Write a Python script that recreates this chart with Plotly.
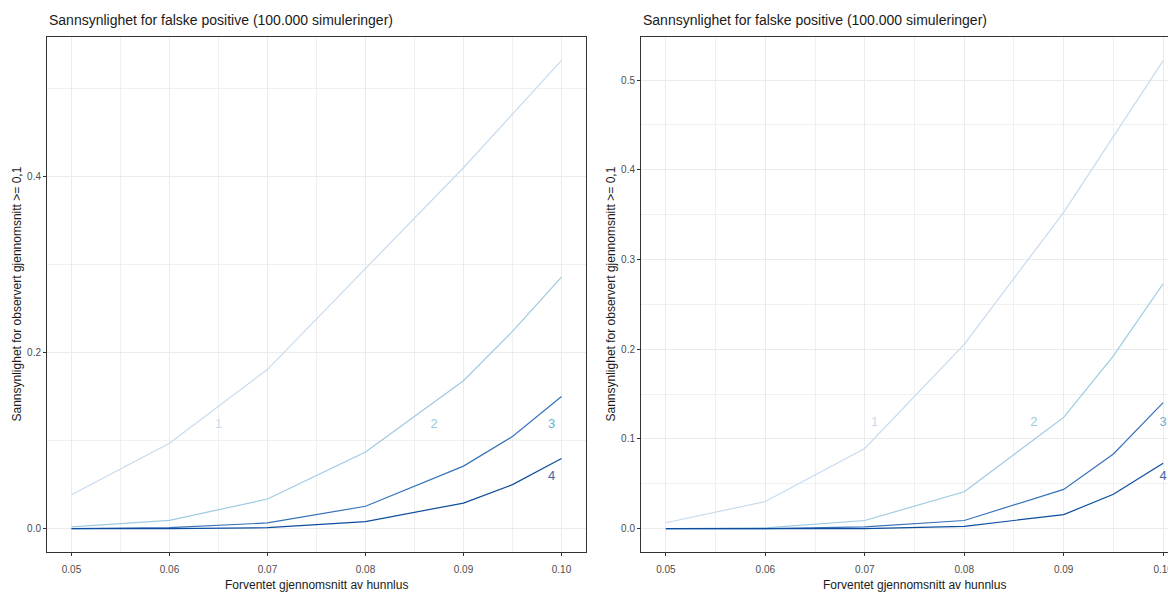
import plotly.graph_objects as go

# ---------------- data ----------------
x_vals = [0.05, 0.06, 0.07, 0.08, 0.09, 0.095, 0.10]

left_s1 = [0.0385, 0.097, 0.181, 0.296, 0.410, 0.471, 0.532]
left_s2 = [0.002, 0.0093, 0.0336, 0.087, 0.168, 0.224, 0.2857]
left_s3 = [0.0, 0.001, 0.0064, 0.0254, 0.071, 0.1047, 0.150]
left_s4 = [0.0, 0.0, 0.001, 0.008, 0.029, 0.050, 0.0796]

right_s1 = [0.0066, 0.0303, 0.0894, 0.2055, 0.3526, 0.437, 0.5216]
right_s2 = [0.0, 0.001, 0.0091, 0.0412, 0.124, 0.1927, 0.273]
right_s3 = [0.0, 0.0, 0.002, 0.0091, 0.0438, 0.0832, 0.1405]
right_s4 = [0.0, 0.0, 0.0, 0.0026, 0.0157, 0.0383, 0.073]

label_text = ["1", "2", "3", "4"]
left_label_x = [0.065, 0.087, 0.099, 0.099]
left_label_y = [0.1185, 0.1185, 0.1185, 0.0587]
right_label_x = [0.071, 0.087, 0.1, 0.1]
right_label_y = [0.1186, 0.1186, 0.1186, 0.0584]

x_ticks = [0.05, 0.06, 0.07, 0.08, 0.09, 0.10]
x_ticktext = ["0.05", "0.06", "0.07", "0.08", "0.09", "0.10"]
left_y_ticks = [0.0, 0.2, 0.4]
left_y_ticktext = ["0.0", "0.2", "0.4"]
right_y_ticks = [0.0, 0.1, 0.2, 0.3, 0.4, 0.5]
right_y_ticktext = ["0.0", "0.1", "0.2", "0.3", "0.4", "0.5"]

title_text = "Sannsynlighet for falske positive (100.000 simuleringer)"
x_title = "Forventet gjennomsnitt av hunnlus"
y_title = "Sannsynlighet for observert gjennomsnitt >= 0,1"

# ---------------- styling ----------------
W, H = 1192, 600
line_colors = ["#c6dbef", "#9ecae1", "#3672bb", "#0c4d9e"]
label_colors = ["#c6dbef", "#9ecae1", "#6baed6", "#4169a8"]
FONT = "Liberation Sans, Arial, sans-serif"

fig = go.Figure()

panels = [
    ("x", "y", [left_s1, left_s2, left_s3, left_s4], left_label_x, left_label_y),
    ("x2", "y2", [right_s1, right_s2, right_s3, right_s4], right_label_x, right_label_y),
]
for xa, ya, series, lx, ly in panels:
    for s, c in zip(series, line_colors):
        fig.add_trace(go.Scatter(x=x_vals, y=s, mode="lines", xaxis=xa, yaxis=ya,
                                 line=dict(color=c, width=1.2), showlegend=False,
                                 hoverinfo="skip"))
    for t, xx, yy, c in zip(label_text, lx, ly, label_colors):
        fig.add_trace(go.Scatter(x=[xx], y=[yy], mode="text", text=[t], xaxis=xa, yaxis=ya,
                                 textfont=dict(color=c, size=13, family=FONT),
                                 showlegend=False, hoverinfo="skip"))

def px_x(p):
    return p / W

def px_y(p):
    return 1 - p / H

common_axis = dict(
    showline=True, linecolor="#333333", linewidth=1, mirror=True,
    ticks="outside", ticklen=3, tickcolor="#333333", tickwidth=1,
    showgrid=True, gridcolor="#ebebeb", gridwidth=1, zeroline=False,
    tickfont=dict(size=10, color="#4d4d4d", family=FONT),
)

xrange = [0.0475, 0.1025]
fig.update_layout(
    width=W, height=H,
    margin=dict(l=0, r=0, t=0, b=0),
    paper_bgcolor="white", plot_bgcolor="white",
    font=dict(family=FONT),
    xaxis=dict(domain=[px_x(47), px_x(586)], range=xrange, anchor="y",
               tickvals=x_ticks, ticktext=x_ticktext, ticklabelstandoff=5,
               minor=dict(dtick=0.005, tick0=0.045, showgrid=True, gridcolor="#f0f0f0", gridwidth=0.8, ticks=""),
               **common_axis),
    yaxis=dict(domain=[px_y(552), px_y(37)], range=[-0.0266, 0.5586], anchor="x",
               tickvals=left_y_ticks, ticktext=left_y_ticktext,
               minor=dict(dtick=0.1, tick0=0.1, showgrid=True, gridcolor="#f0f0f0", gridwidth=0.8, ticks=""),
               **common_axis),
    xaxis2=dict(domain=[px_x(641), px_x(1188)], range=xrange, anchor="y2",
                tickvals=x_ticks, ticktext=x_ticktext, ticklabelstandoff=5,
                minor=dict(dtick=0.005, tick0=0.045, showgrid=True, gridcolor="#f0f0f0", gridwidth=0.8, ticks=""),
                **common_axis),
    yaxis2=dict(domain=[px_y(552), px_y(37)], range=[-0.026, 0.548], anchor="x2",
                tickvals=right_y_ticks, ticktext=right_y_ticktext,
                minor=dict(dtick=0.05, tick0=0.05, showgrid=True, gridcolor="#f0f0f0", gridwidth=0.8, ticks=""),
                **common_axis),
)

annotations = []
for left, right in [(47, 586), (641, 1188)]:
    annotations.append(dict(text=title_text, xref="paper", yref="paper",
                            x=px_x(left), y=px_y(20), xanchor="left", yanchor="middle",
                            showarrow=False, font=dict(size=14, color="#1a1a1a", family=FONT)))
    annotations.append(dict(text=x_title, xref="paper", yref="paper",
                            x=px_x((left + right) / 2), y=px_y(585), xanchor="center", yanchor="middle",
                            showarrow=False, font=dict(size=12, color="#1a1a1a", family=FONT)))
    annotations.append(dict(text=y_title, xref="paper", yref="paper",
                            x=px_x(left - 31), y=px_y(294.5), xanchor="center", yanchor="middle",
                            textangle=-90, showarrow=False,
                            font=dict(size=12, color="#1a1a1a", family=FONT)))
fig.update_layout(annotations=annotations)

fig.write_html("out.html", config={"displayModeBar": False},
               post_script="document.body.style.margin='0';document.body.style.overflow='hidden';document.documentElement.style.overflow='hidden';")
